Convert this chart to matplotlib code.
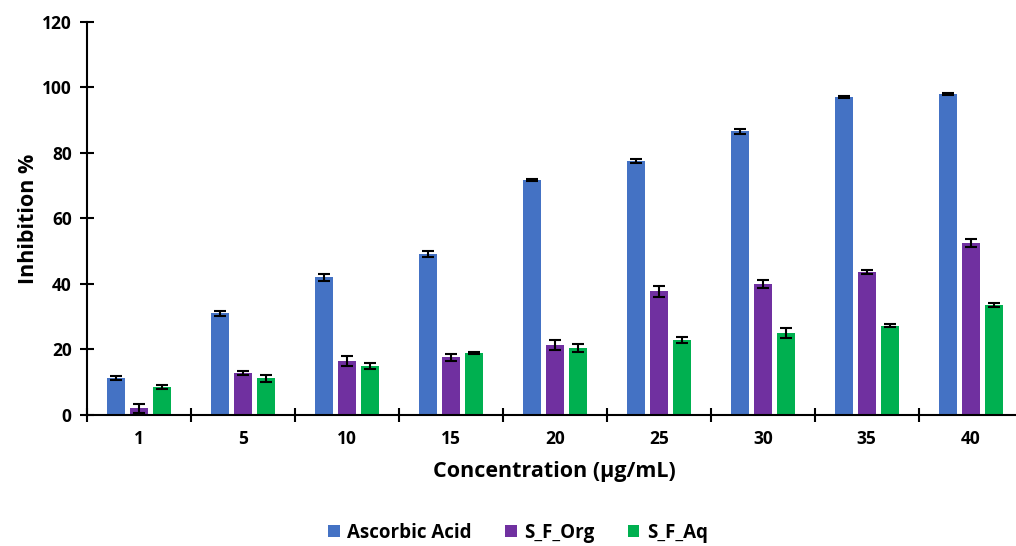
import numpy as np
from matplotlib import pyplot as plt
from matplotlib.ticker import FixedLocator

plt.rcParams['font.family'] = ['Open Sans', 'DejaVu Sans']
plt.rcParams['font.weight'] = 'bold'

concentrations = ['1', '5', '10', '15', '20', '25', '30', '35', '40']

ascorbic = [11.3, 31.0, 42.0, 49.2, 71.8, 77.5, 86.6, 97.0, 98.0]
ascorbic_err = [0.6, 0.7, 1.1, 1.0, 0.3, 0.6, 0.8, 0.3, 0.3]

sf_org = [2.0, 12.8, 16.5, 17.6, 21.4, 37.8, 40.0, 43.7, 52.5]
sf_org_err = [1.3, 0.7, 1.6, 1.0, 1.5, 1.7, 1.2, 0.6, 1.2]

sf_aq = [8.5, 11.2, 15.0, 18.8, 20.5, 23.0, 25.0, 27.3, 33.5]
sf_aq_err = [0.6, 1.0, 1.0, 0.3, 1.2, 0.9, 1.6, 0.6, 0.6]

series = [
    ('Ascorbic Acid', ascorbic, ascorbic_err, '#4472C4'),
    ('S_F_Org', sf_org, sf_org_err, '#7030A0'),
    ('S_F_Aq', sf_aq, sf_aq_err, '#00B050'),
]

fig = plt.figure(figsize=(10.16, 5.46), dpi=100)
ax = fig.add_axes([0.0856, 0.240, 0.921, 0.720])

x = np.arange(len(concentrations))
width = 0.173
step = 0.221
for i, (name, vals, errs, color) in enumerate(series):
    ax.bar(x + (i - 1) * step, vals, width, color=color, label=name,
           yerr=errs, capsize=4,
           error_kw=dict(ecolor='black', elinewidth=1.5, capthick=1.5))

ax.set_xlim(-0.5, len(concentrations) - 0.5)
ax.set_ylim(0, 120)
ax.set_yticks(range(0, 121, 20))
ax.set_xticks(x)
ax.set_xticklabels(concentrations)
ax.xaxis.set_minor_locator(FixedLocator(np.arange(-0.5, len(concentrations), 1.0)))

ax.tick_params(axis='x', which='major', length=0, pad=11, labelsize=12.5)
ax.tick_params(axis='x', which='minor', direction='inout', length=10, width=1.5)
ax.tick_params(axis='y', direction='inout', length=10, width=1.5, pad=6, labelsize=12.5)

for s in ['top', 'right']:
    ax.spines[s].set_visible(False)
for s in ['left', 'bottom']:
    ax.spines[s].set_linewidth(1.5)

ax.set_xlabel('Concentration (µg/mL)', fontsize=15.5, fontweight='bold', labelpad=9)
ax.set_ylabel('Inhibition %', fontsize=15.5, fontweight='bold', labelpad=2)

fig.legend(loc='lower center', bbox_to_anchor=(0.51, -0.025), ncol=3, frameon=False,
           fontsize=13.5, handlelength=0.6, handleheight=0.6, handletextpad=0.4,
           columnspacing=1.8)

fig.savefig('out.png', dpi=100)
